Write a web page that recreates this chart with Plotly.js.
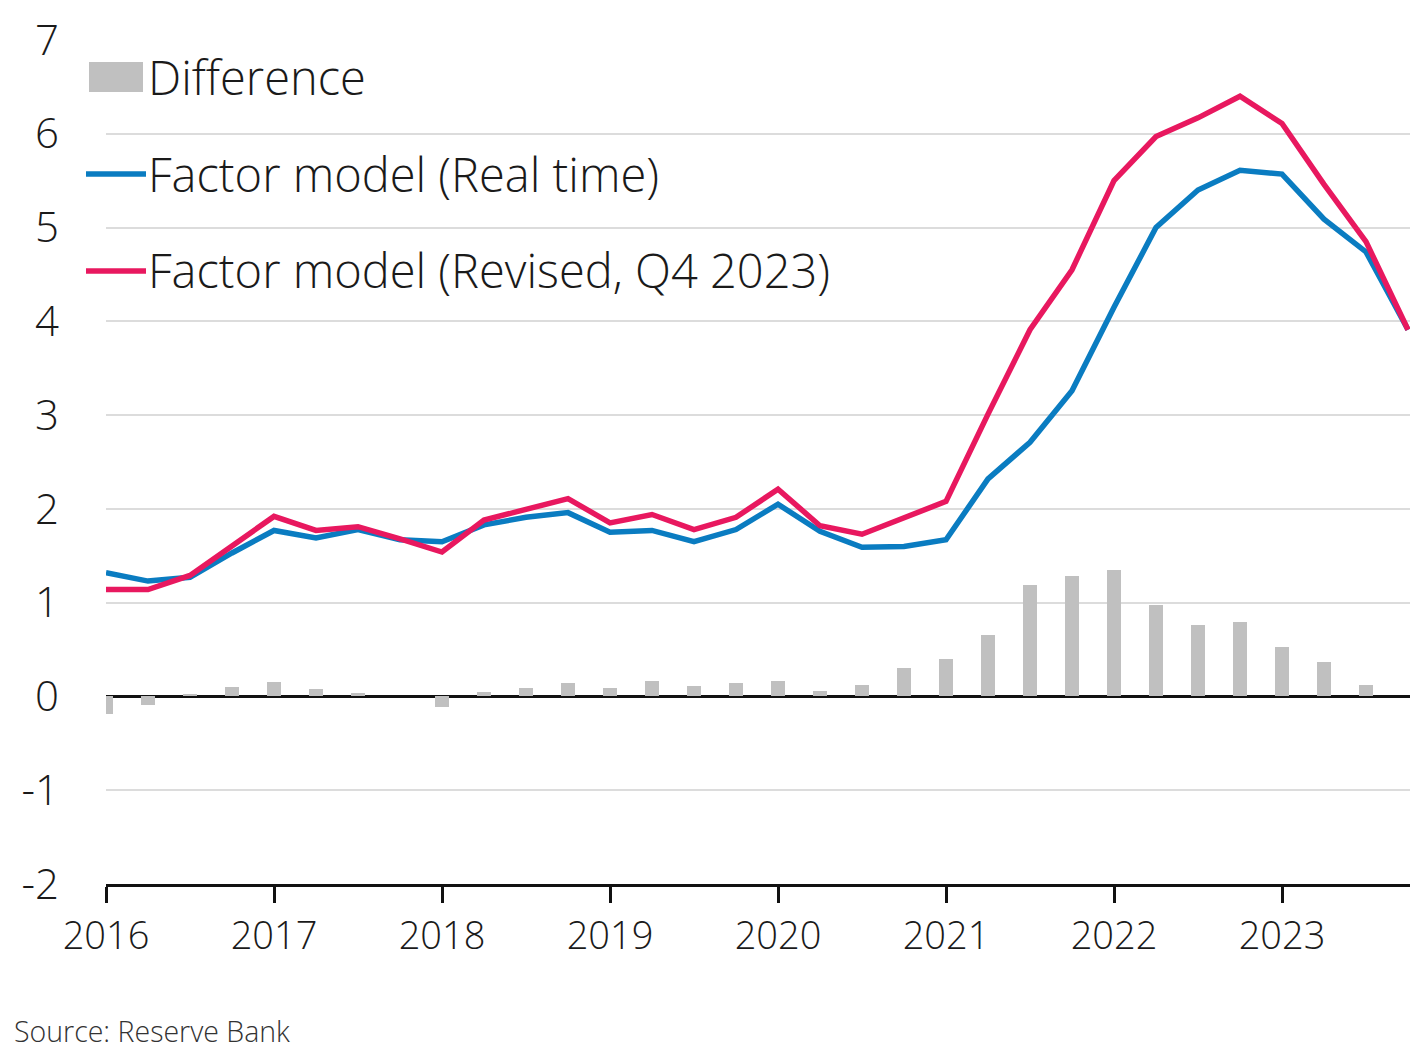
<!DOCTYPE html>
<html>
<head>
<meta charset="utf-8">
<script src="https://cdn.plot.ly/plotly-3.0.1.min.js"></script>
<style>html,body{margin:0;padding:0;background:#fff;}#chart{width:1427px;height:1054px;}</style>
</head>
<body>
<div id="chart"></div>
<script>
// Quarterly periods 2016 Q1 to 2023 Q4 (decimal year at start of quarter)
const years = [2016,2016,2016,2016,2017,2017,2017,2017,2018,2018,2018,2018,2019,2019,2019,2019,
               2020,2020,2020,2020,2021,2021,2021,2021,2022,2022,2022,2022,2023,2023,2023,2023];
const quarters = [1,2,3,4,1,2,3,4,1,2,3,4,1,2,3,4,1,2,3,4,1,2,3,4,1,2,3,4,1,2,3,4];
const realTime = [1.32,1.23,1.27,1.53,1.77,1.69,1.78,1.67,1.65,1.83,1.91,1.96,1.75,1.77,1.65,1.78,
                  2.05,1.76,1.59,1.60,1.67,2.32,2.71,3.26,4.15,5.00,5.40,5.61,5.57,5.09,4.74,3.91];
const revised  = [1.14,1.14,1.29,1.60,1.92,1.77,1.81,1.68,1.54,1.88,2.00,2.11,1.85,1.94,1.78,1.91,
                  2.21,1.82,1.73,1.90,2.08,3.01,3.91,4.55,5.50,5.97,6.17,6.40,6.11,5.46,4.85,3.91];
const difference = [-0.19,-0.09,0.03,0.10,0.15,0.08,0.04,0.00,-0.11,0.05,0.09,0.14,0.09,0.16,0.11,0.14,
                    0.16,0.06,0.12,0.30,0.40,0.66,1.19,1.28,1.35,0.97,0.76,0.79,0.53,0.37,0.12,0.00];
const yearTicks = [2016,2017,2018,2019,2020,2021,2022,2023];
const yTicks = [-2,-1,0,1,2,3,4,5,6,7];
const seriesNames = ["Difference","Factor model (Real time)","Factor model (Revised, Q4 2023)"];
const sourceText = "Source: Reserve Bank";

const xVals = years.map((y,i) => y + (quarters[i]-1)/4);

const FONT = '"Open Sans", "Noto Sans", sans-serif';
const TXT = '#1a1a1a';
const BLUE = '#0a7cc1';
const RED = '#e8185f';
const GREY = '#c0c0c0';

const traces = [
  {type:'bar', x:xVals, y:difference, name:seriesNames[0], marker:{color:GREY, line:{width:0}}, width:0.08, showlegend:false},
  {type:'scatter', mode:'lines', x:xVals, y:realTime, name:seriesNames[1], line:{color:BLUE, width:5.5}, showlegend:false},
  {type:'scatter', mode:'lines', x:xVals, y:revised, name:seriesNames[2], line:{color:RED, width:5.5}, showlegend:false}
];

// pixel -> paper helpers (plot area: x 106..1410, y 40..884)
const L = 106, R = 1410, T = 40, B = 884;
const px = v => (v - L) / (R - L);
const py = v => (B - v) / (B - T);

const shapes = [
  {type:'rect', xref:'paper', yref:'paper', x0:px(89), x1:px(143), y0:py(92), y1:py(62), fillcolor:GREY, line:{width:0}},
  {type:'line', xref:'paper', yref:'paper', x0:px(86), x1:px(146), y0:py(174), y1:py(174), line:{color:BLUE, width:5.5}},
  {type:'line', xref:'paper', yref:'paper', x0:px(86), x1:px(146), y0:py(271), y1:py(271), line:{color:RED, width:5.5}}
];

const legendFont = {family:FONT, size:47, color:TXT, weight:300};
const annotations = [
  {xref:'paper', yref:'paper', x:px(146), y:py(77), xanchor:'left', yanchor:'middle', text:seriesNames[0], showarrow:false, font:legendFont},
  {xref:'paper', yref:'paper', x:px(146), y:py(174), xanchor:'left', yanchor:'middle', text:seriesNames[1], showarrow:false, font:legendFont},
  {xref:'paper', yref:'paper', x:px(146), y:py(270), xanchor:'left', yanchor:'middle', text:seriesNames[2], showarrow:false, font:legendFont},
  {xref:'paper', yref:'paper', x:px(12), y:py(1031), xanchor:'left', yanchor:'middle', text:sourceText, showarrow:false, font:{family:FONT, size:28.5, color:'#333', weight:300}}
];

const layout = {
  width:1427, height:1054,
  margin:{l:L, r:1427-R, t:T, b:1054-B, pad:0},
  paper_bgcolor:'#fff', plot_bgcolor:'#fff',
  font:{family:FONT, color:TXT},
  showlegend:false,
  bargap:0,
  xaxis:{
    range:[2016, 2016 + (R-L)/168],
    tickvals:yearTicks, ticktext:yearTicks.map(String),
    showgrid:false, zeroline:false,
    showline:true, linecolor:'#111', linewidth:3,
    ticks:'outside', ticklen:16, tickwidth:3, tickcolor:'#111',
    tickfont:{family:FONT, size:38, color:TXT, weight:300},
    fixedrange:true
  },
  yaxis:{
    range:[-2,7],
    tickvals:yTicks, ticktext:yTicks.map(String),
    showgrid:true, gridcolor:'#dcdcdc', gridwidth:2,
    zeroline:true, zerolinecolor:'#111', zerolinewidth:2.5,
    showline:false, ticks:'',
    ticklabelstandoff:46,
    tickfont:{family:FONT, size:42, color:TXT, weight:300},
    fixedrange:true
  },
  shapes:shapes,
  annotations:annotations
};

Plotly.newPlot('chart', traces, layout, {displayModeBar:false, staticPlot:true});
</script>
</body>
</html>
